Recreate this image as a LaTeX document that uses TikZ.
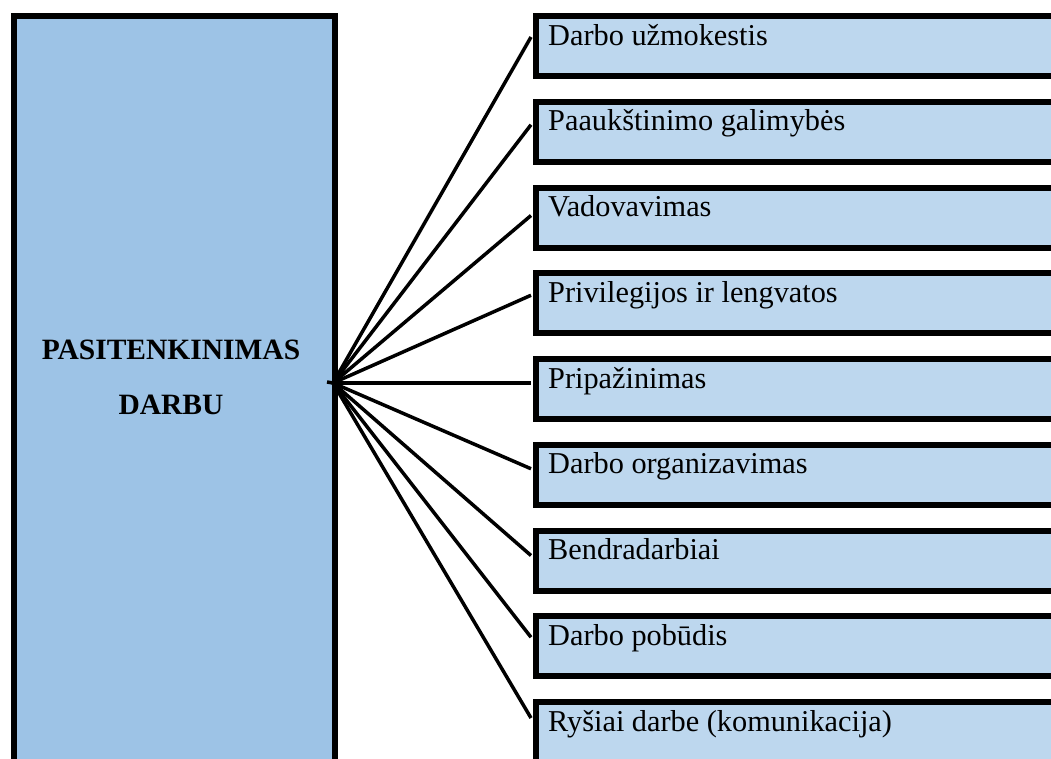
\documentclass[tikz,border=0pt]{standalone}
\usepackage{fontspec}
\setmainfont{Liberation Serif}
\definecolor{leftblue}{HTML}{9DC3E6}
\definecolor{rightblue}{HTML}{BDD7EE}
\begin{document}
\begin{tikzpicture}[x=1pt,y=-1pt,
  mainbox/.style={draw=black,line width=6pt,fill=leftblue,rectangle,inner sep=0pt,anchor=north west,minimum width=321pt,minimum height=760pt},
  itembox/.style={draw=black,line width=6pt,fill=rightblue,rectangle,inner sep=0pt,anchor=north west,minimum width=540pt,minimum height=60pt},
  itemtext/.style={anchor=base west,inner sep=0pt,font=\fontsize{30.3}{36}\selectfont},
  maintext/.style={anchor=base,inner sep=0pt,font=\bfseries\fontsize{29.5}{36}\selectfont},
  conn/.style={draw=black,line width=3.5pt}]
\useasboundingbox (0,0) rectangle (1051,758);
\clip (0,0) rectangle (1051,758);
\node[mainbox] (main) at (11,13) {};
\node[maintext] (m1) at (171,359) {PASITENKINIMAS};
\node[maintext] (m2) at (171,414) {DARBU};
\coordinate (hub) at (333,383);
\coordinate (stub) at (327,382);
\foreach \i/\txt/\off in {1/Darbo užmokestis/27, 2/Paaukštinimo galimybės/29, 3/Vadovavimas/34, 4/Privilegijos ir lengvatos/28, 5/Pripažinimas/30, 6/Darbo organizavimas/30, 7/Bendradarbiai/31, 8/Darbo pobūdis/27, 9/Ryšiai darbe (komunikacija)/22} {
  \pgfmathsetmacro{\top}{10+85.75*(\i-1)}
  \node[itembox] (b\i) at (533,\top+3) {};
  \node[itemtext] (t\i) at (548,\top+35) {\txt};
  \coordinate (e\i) at (531,\top+\off);
  \draw[conn] (hub) -- (e\i);
}
\draw[conn] (stub) -- (hub);
\end{tikzpicture}
\end{document}
